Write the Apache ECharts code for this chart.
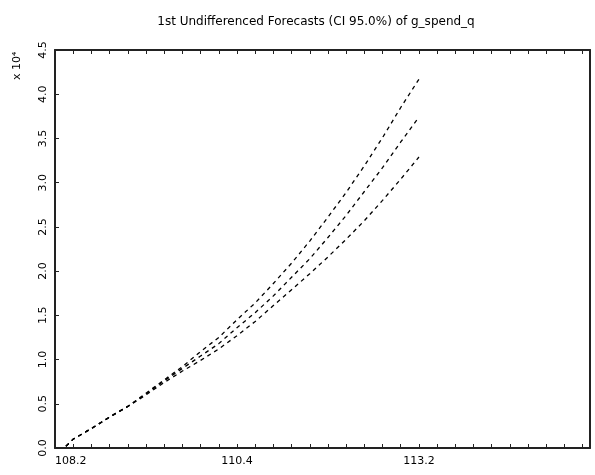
<!DOCTYPE html>
<html>
<head>
<meta charset="utf-8">
<script src="https://cdn.jsdelivr.net/npm/echarts@6/dist/echarts.min.js"></script>
<style>
  html, body { margin: 0; padding: 0; background: #fff; }
  #chart { width: 595px; height: 475px; }
</style>
</head>
<body>
<div id="chart"></div>
<script>
// quarters counted from 108.2 (0) ; values in units of 10^4
const quarters = [0.6, 1, 2, 3, 4, 5, 6, 7, 8, 9, 10, 11, 12, 13, 14, 15, 16, 17, 18, 19, 20];
const upperBand = [0.02, 0.10, 0.22, 0.35, 0.47, 0.62, 0.77, 0.92, 1.09, 1.25, 1.45, 1.64, 1.86, 2.09, 2.34, 2.61, 2.89, 3.19, 3.51, 3.85, 4.17];
const forecast  = [0.02, 0.10, 0.22, 0.35, 0.47, 0.61, 0.76, 0.90, 1.04, 1.18, 1.36, 1.53, 1.72, 1.93, 2.14, 2.38, 2.63, 2.90, 3.17, 3.46, 3.74];
const lowerBand = [0.02, 0.10, 0.22, 0.35, 0.47, 0.60, 0.74, 0.87, 0.99, 1.12, 1.27, 1.43, 1.61, 1.79, 1.97, 2.16, 2.36, 2.57, 2.80, 3.04, 3.29];
const xTickLabels = { 0: '108.2', 10: '110.4', 20: '113.2' };
const yTicks = ['0.0', '0.5', '1.0', '1.5', '2.0', '2.5', '3.0', '3.5', '4.0', '4.5'];

const chart = echarts.init(document.getElementById('chart'));
const font = 'DejaVu Sans';
const axisColor = '#222';

const pair = arr => quarters.map((q, i) => [q, arr[i]]);

const lineSeries = [upperBand, forecast, lowerBand].map(arr => ({
  type: 'line',
  data: pair(arr),
  showSymbol: false,
  silent: true,
  lineStyle: { color: '#000', width: 1.3, type: [4, 4] }
}));

const option = {
  backgroundColor: '#fff',
  animation: false,
  title: {
    text: '1st Undifferenced Forecasts (CI 95.0%) of g_spend_q',
    left: 311,
    top: 11,
    textAlign: 'center',
    textStyle: { fontFamily: font, fontSize: 12, fontWeight: 'normal', color: '#000' }
  },
  grid: { left: 55, right: 5, top: 50, bottom: 27 },
  xAxis: [{
    type: 'value',
    min: 0,
    max: 29.4,
    interval: 1,
    axisLine: { onZero: false, lineStyle: { color: axisColor, width: 2 } },
    axisTick: { inside: true, length: 4, lineStyle: { color: axisColor } },
    axisLabel: {
      fontFamily: font, fontSize: 11, color: '#000', margin: 8,
      alignMinLabel: 'left', showMaxLabel: false,
      formatter: v => xTickLabels[v] || ''
    },
    splitLine: { show: false }
  }, {
    type: 'value',
    position: 'top',
    min: 0,
    max: 29.4,
    interval: 1,
    axisLine: { show: true, onZero: false, lineStyle: { color: axisColor, width: 2 } },
    axisTick: { show: true, inside: true, length: 4, lineStyle: { color: axisColor } },
    axisLabel: { show: false },
    splitLine: { show: false }
  }],
  yAxis: [{
    type: 'value',
    min: 0,
    max: 4.5,
    interval: 0.5,
    axisLine: { show: true, onZero: false, lineStyle: { color: axisColor, width: 2 } },
    axisTick: { show: true, inside: true, length: 4, lineStyle: { color: axisColor } },
    axisLabel: {
      fontFamily: font, fontSize: 11, color: '#000', rotate: 90, margin: 6,
      formatter: v => yTicks[Math.round(v / 0.5)]
    },
    splitLine: { show: false }
  }, {
    type: 'value',
    position: 'right',
    min: 0,
    max: 4.5,
    axisLine: { show: true, onZero: false, lineStyle: { color: axisColor, width: 2 } },
    axisTick: { show: false },
    axisLabel: { show: false },
    splitLine: { show: false }
  }],
  graphic: [{
    type: 'text',
    x: 12,
    y: 80,
    rotation: Math.PI / 2,
    style: { text: 'x 10⁴', fontFamily: font, fontSize: 11, fill: '#000' }
  }],
  series: lineSeries
};

chart.setOption(option);
</script>
</body>
</html>
